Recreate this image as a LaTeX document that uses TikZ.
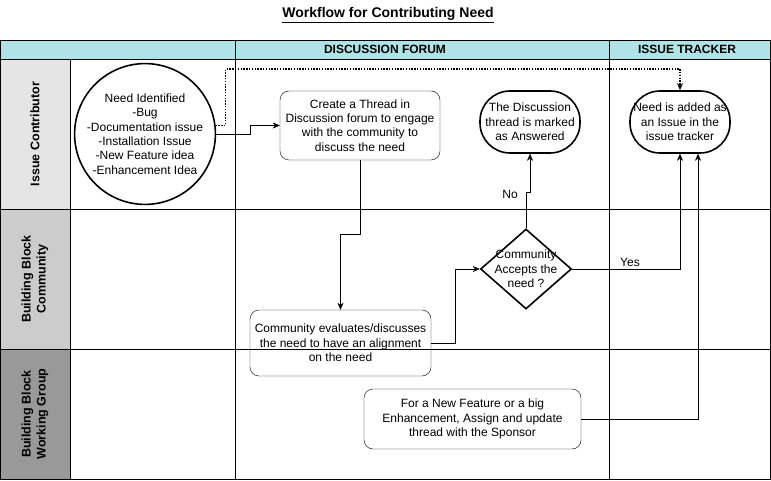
\documentclass[tikz,border=0pt]{standalone}
\usepackage{fontspec}
\setmainfont{Liberation Sans}
\usetikzlibrary{shapes.geometric,arrows.meta}
\definecolor{headfill}{HTML}{B0E3E6}
\definecolor{headline}{HTML}{0E8088}
\begin{document}
\begin{tikzpicture}[x=1pt,y=-1pt,
		txt/.style={align=center,inner sep=0pt,font=\fontsize{12}{14.3}\selectfont},
		proc/.style={txt,draw,rounded corners=9pt},
		term/.style={txt,draw,line width=1.6pt,rounded corners=30pt,minimum width=100pt,minimum height=62pt},
		decision/.style={draw,diamond,line width=1.6pt,minimum width=91pt,minimum height=80pt,inner sep=0pt},
		flow/.style={-{Stealth[length=7pt,width=6pt]}},
		head/.style={font=\fontsize{12}{14}\selectfont\bfseries},
		lane/.style={rotate=90,align=center,font=\fontsize{12.5}{15}\selectfont\bfseries}]
			\fill[white] (0,0) rectangle (771,481);
			\useasboundingbox (0,0) rectangle (771,481);
			\node[font=\fontsize{14}{16}\selectfont\bfseries] (title) at (388,15) {\underline{Workflow for Contributing Need}};
			\fill[headfill] (0,40) rectangle (770,59);
			\fill[black!10] (0,59) rectangle (70,209);
			\fill[black!20] (0,209) rectangle (70,349);
			\fill[black!40] (0,349) rectangle (70,479);
			\draw[headline] (0,40)--(770,40);
			\draw[black] (0,40) rectangle (770,479);
			\draw[black] (0,59)--(770,59);
			\draw[black] (0,209)--(770,209);
			\draw[black] (0,349)--(770,349);
			\draw[black] (70,59)--(70,479);
			\draw[black] (235,40)--(235,479);
			\draw[black] (609,40)--(609,479);
			\node[head] (forum) at (385,49.5) {DISCUSSION FORUM};
			\node[head] (tracker) at (687,49.5) {ISSUE TRACKER};
			\node[lane] (contrib) at (35,134) {Issue Contributor};
			\node[lane] (community) at (35,279) {Building Block\\Community};
			\node[lane] (wgroup) at (35,414) {Building Block\\Working Group};
			\node[txt,draw,circle,line width=1.6pt,minimum size=132pt] (need) at (145,134) {Need Identified\\-Bug\\-Documentation issue\\-Installation Issue\\-New Feature idea\\-Enhancement Idea};
			\node[proc,minimum width=160pt,minimum height=69pt] (thread) at (360,125.5) {Create a Thread in\\Discussion forum to engage\\with the community to\\discuss the need};
			\node[term] (answered) at (530,122) {The Discussion\\thread is marked\\as Answered};
			\node[term] (added) at (680,122) {Need is added as\\an Issue in the\\issue tracker};
			\node[decision] (accept) at (526,269) {};
			\node[txt] (accepttxt) at (accept) {Community\\Accepts the\\need ?};
			\node[proc,minimum width=181pt,minimum height=66pt] (evaluate) at (340.5,343) {Community evaluates/discusses\\the need to have an alignment\\on the need};
			\node[proc,minimum width=217pt,minimum height=60pt] (sponsor) at (472.5,419) {For a New Feature or a big\\Enhancement, Assign and update\\thread with the Sponsor};
			\coordinate (dottop) at (680,69);
			\coordinate (sponsorin) at ([xshift=18pt]added.south);
			\draw[flow] (need.east) -- ++(34,0) |- (thread.west);
			\draw[flow,line width=1.4pt,dash pattern=on 1.4pt off 1.4pt] (need.7) -- ++(10,0) |- (dottop) -- (added.north);
			\draw[flow] (thread.south) -- ++(0,74) -| (evaluate.north);
			\draw[flow] (evaluate.east) -- ++(24,0) |- (accept.west);
			\draw[flow] (accept.north) -- ++(0,-36) -| (answered.south);
			\draw[flow] (accept.east) -| (added.south);
			\draw[flow] (sponsor.east) -| (sponsorin);
			\node[txt] (no) at (510,194) {No};
			\node[txt] (yes) at (630,262) {Yes};
		\end{tikzpicture}
\end{document}
